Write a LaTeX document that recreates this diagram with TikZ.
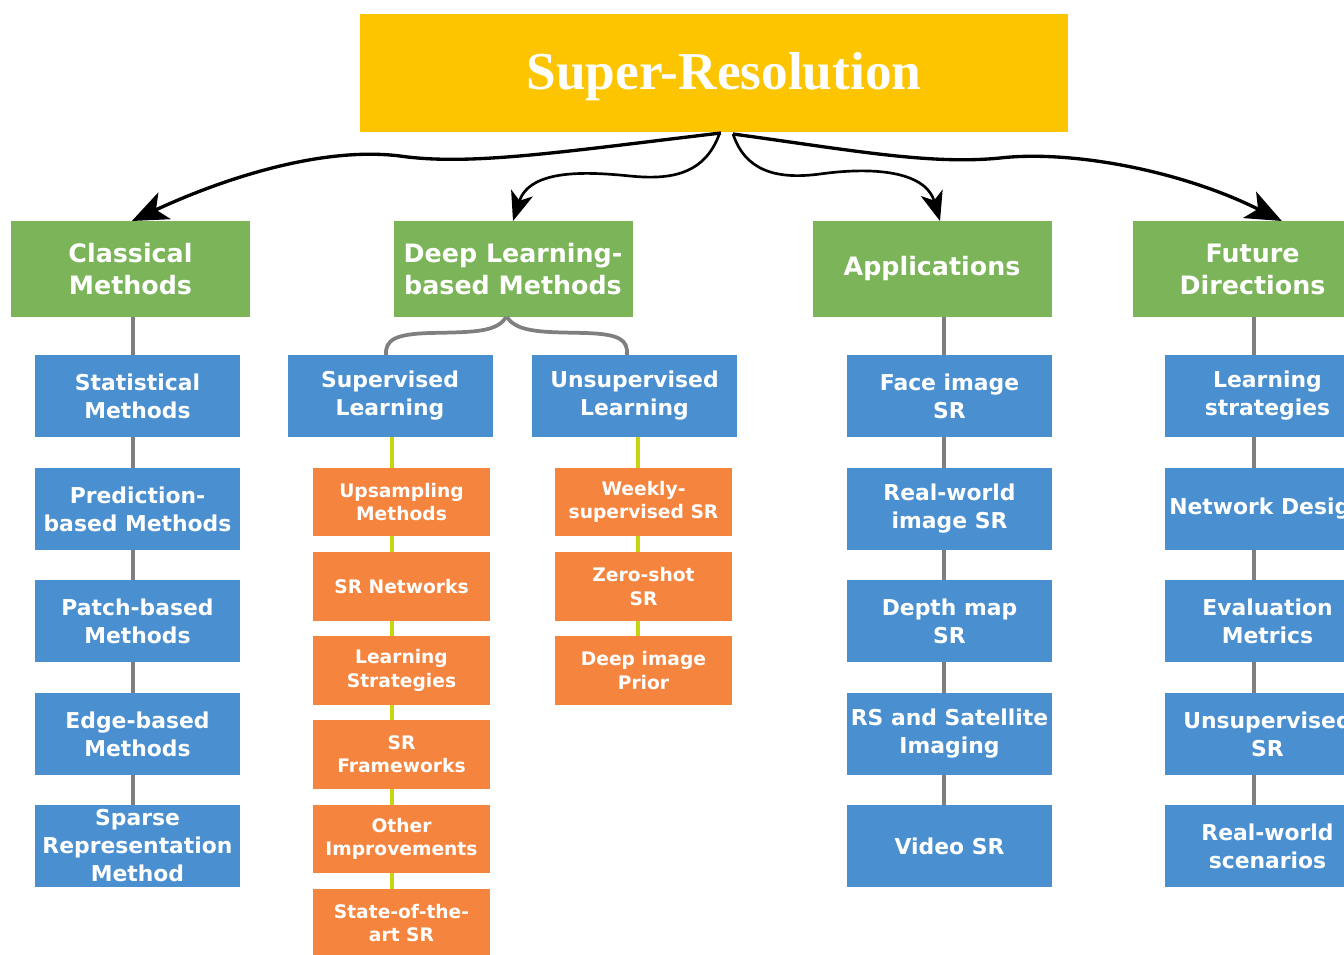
\documentclass[tikz,border=0pt]{standalone}
\usepackage{fontspec}
\setmainfont{DejaVu Sans}
\newfontfamily\titlefont{Liberation Serif}
\usetikzlibrary{arrows.meta,calc}
\definecolor{cyellow}{HTML}{FCC500}
\definecolor{cgreen}{HTML}{7CB559}
\definecolor{cblue}{HTML}{4A8FCF}
\definecolor{corange}{HTML}{F5843F}
\definecolor{cgrey}{HTML}{7F7F7F}
\definecolor{cline}{HTML}{C6D50F}
\begin{document}
\begin{tikzpicture}[x=0.75pt,y=-0.75pt,
  box/.style={rectangle,inner sep=0pt,outer sep=0pt,align=center,text=white},
  titlebox/.style={box,fill=cyellow,minimum width=531pt,minimum height=88.5pt},
  titletext/.style={text=white,font=\titlefont\bfseries\fontsize{40}{48}\selectfont},
  catbox/.style={box,fill=cgreen,minimum width=179.25pt,minimum height=72pt,
    font=\bfseries\fontsize{19}{24}\selectfont},
  bluebox/.style={box,fill=cblue,minimum width=153.75pt,minimum height=61.5pt,
    font=\bfseries\fontsize{16.4}{21}\selectfont},
  orangebox/.style={box,fill=corange,minimum width=132.75pt,minimum height=51.5pt,
    font=\bfseries\fontsize{14}{17.5}\selectfont},
  gline/.style={draw=cgrey,line width=3pt},
  yline/.style={draw=cline,line width=3pt},
  bigarrow/.style={draw=black,line width=2.5pt,-{Stealth[length=27pt,width=22pt,inset=7pt]}},
  smallarrow/.style={draw=black,line width=2pt,-{Stealth[length=22pt,width=17pt,inset=6pt]}}
]
\useasboundingbox (0,0) rectangle (1344,954);
\fill[white] (0,0) rectangle (1344,954);

% title
\node[titlebox] (title) at (714,73) {};
\node[titletext] (ttext) at (724,77) {Super-Resolution};

% categories
\node[catbox] (cls) at (130.5,269) {Classical\\Methods};
\node[catbox] (dl)  at (513,269) {Deep Learning-\\based Methods};
\node[catbox] (app) at (932,269) {Applications};
\node[catbox] (fut) at (1252.5,269) {Future\\Directions};

% classical column
\node[bluebox] (c1) at (137.5,396) {Statistical\\Methods};
\node[bluebox] (c2) at (137.5,509) {Prediction-\\based Methods};
\node[bluebox] (c3) at (137.5,621) {Patch-based\\Methods};
\node[bluebox] (c4) at (137.5,734) {Edge-based\\Methods};
\node[bluebox] (c5) at (137.5,846) {Sparse\\Representation\\Method};

% deep learning
\node[bluebox] (sup) at (390,396) {Supervised\\Learning};
\node[bluebox] (uns) at (634.5,396) {Unsupervised\\Learning};
\node[orangebox] (s1) at (401.5,502) {Upsampling\\Methods};
\node[orangebox] (s2) at (401.5,586.5) {SR Networks};
\node[orangebox] (s3) at (401.5,670.5) {Learning\\Strategies};
\node[orangebox] (s4) at (401.5,754.5) {SR\\Frameworks};
\node[orangebox] (s5) at (401.5,839) {Other\\Improvements};
\node[orangebox] (s6) at (401.5,923) {State-of-the-\\art SR};
\node[orangebox] (u1) at (643.5,502) {Weekly-\\supervised SR};
\node[orangebox] (u2) at (643.5,586.5) {Zero-shot\\SR};
\node[orangebox] (u3) at (643.5,670.5) {Deep image\\Prior};

% applications
\node[bluebox] (a1) at (949.5,396) {Face image\\SR};
\node[bluebox] (a2) at (949.5,509) {Real-world\\image SR};
\node[bluebox] (a3) at (949.5,621) {Depth map\\SR};
\node[bluebox] (a4) at (949.5,734) {RS and Satellite\\Imaging};
\node[bluebox] (a5) at (949.5,846) {Video SR};

% future
\node[bluebox] (f1) at (1267.5,396) {Learning\\strategies};
\node[bluebox] (f2) at (1267.5,509) {Network Design};
\node[bluebox] (f3) at (1267.5,621) {Evaluation\\Metrics};
\node[bluebox] (f4) at (1267.5,734) {Unsupervised\\SR};
\node[bluebox] (f5) at (1267.5,846) {Real-world\\scenarios};

% vertical connector columns
\coordinate (xc) at (133,0);
\coordinate (xa) at (944,0);
\coordinate (xf) at (1254,0);
\coordinate (xs) at (392,0);
\coordinate (xu) at (638,0);

\draw[gline] (cls.south -| xc) -- (c1.north -| xc);
\draw[gline] (c1.south -| xc) -- (c2.north -| xc);
\draw[gline] (c2.south -| xc) -- (c3.north -| xc);
\draw[gline] (c3.south -| xc) -- (c4.north -| xc);
\draw[gline] (c4.south -| xc) -- (c5.north -| xc);

\draw[gline] (app.south -| xa) -- (a1.north -| xa);
\draw[gline] (a1.south -| xa) -- (a2.north -| xa);
\draw[gline] (a2.south -| xa) -- (a3.north -| xa);
\draw[gline] (a3.south -| xa) -- (a4.north -| xa);
\draw[gline] (a4.south -| xa) -- (a5.north -| xa);

\draw[gline] (fut.south -| xf) -- (f1.north -| xf);
\draw[gline] (f1.south -| xf) -- (f2.north -| xf);
\draw[gline] (f2.south -| xf) -- (f3.north -| xf);
\draw[gline] (f3.south -| xf) -- (f4.north -| xf);
\draw[gline] (f4.south -| xf) -- (f5.north -| xf);

\draw[yline] (sup.south -| xs) -- (s1.north -| xs);
\draw[yline] (s1.south -| xs) -- (s2.north -| xs);
\draw[yline] (s2.south -| xs) -- (s3.north -| xs);
\draw[yline] (s3.south -| xs) -- (s4.north -| xs);
\draw[yline] (s4.south -| xs) -- (s5.north -| xs);
\draw[yline] (s5.south -| xs) -- (s6.north -| xs);

\draw[yline] (uns.south -| xu) -- (u1.north -| xu);
\draw[yline] (u1.south -| xu) -- (u2.north -| xu);
\draw[yline] (u2.south -| xu) -- (u3.north -| xu);

% bracket from deep learning to its two branches
\draw[draw=cgrey,line width=2.8pt]
  ([xshift=-5.25pt]dl.south) .. controls (497,333) and (470,332) .. (430,333)
  .. controls (395,334) and (385,340) .. ([xshift=-3pt]sup.north);
\draw[draw=cgrey,line width=2.8pt]
  ([xshift=-4.5pt]dl.south) .. controls (517,333) and (545,332) .. (585,333)
  .. controls (620,334) and (628,340) .. ([xshift=-5.6pt]uns.north);

% arrows from title
\coordinate (jl) at ($(title.south)+(7,1)$);
\coordinate (jr) at ($(title.south)+(19,2)$);
\draw[bigarrow] (jl) .. controls (560,152) and (470,166) .. (400,156)
  .. controls (320,146) and (220,180) .. ([xshift=1pt]cls.north);
\draw[smallarrow] ([xshift=-1pt]jl) .. controls (705,175) and (670,180) .. (630,176)
  .. controls (590,172) and (530,168) .. (dl.north);
\draw[smallarrow] (jr) .. controls (745,170) and (775,180) .. (820,174)
  .. controls (870,167) and (925,170) .. ([xshift=6pt]app.north);
\draw[bigarrow] (jr) .. controls (850,150) and (930,165) .. (1000,158)
  .. controls (1070,150) and (1180,170) .. ([xshift=22pt]fut.north);
\end{tikzpicture}
\end{document}
